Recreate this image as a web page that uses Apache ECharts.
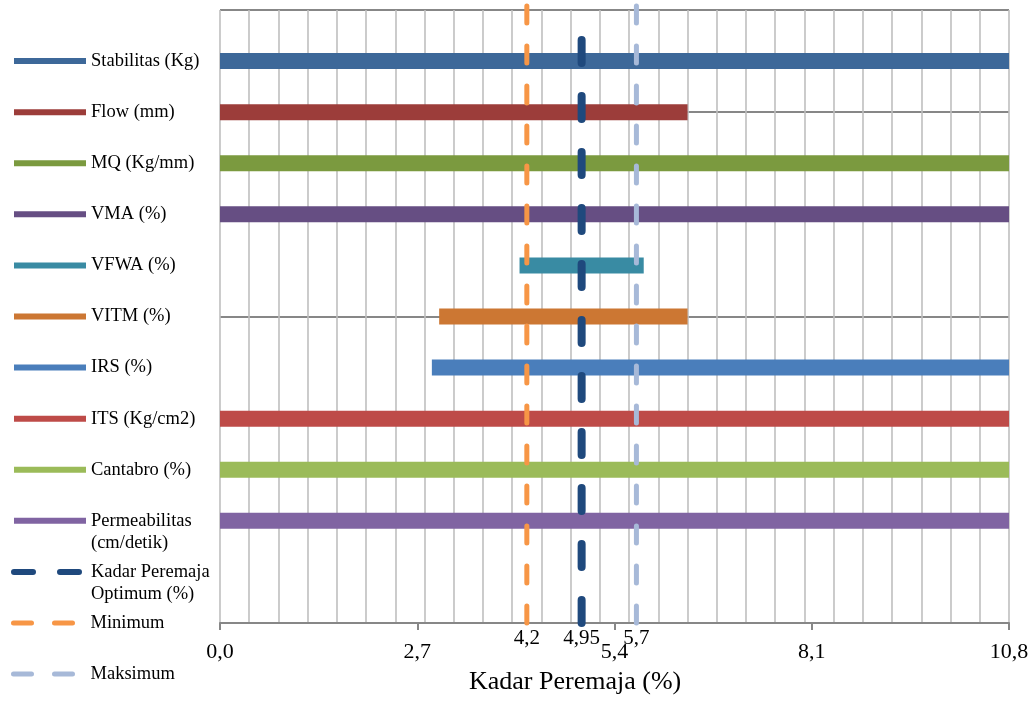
<!DOCTYPE html>
<html><head><meta charset="utf-8">
<script src="https://cdn.jsdelivr.net/npm/echarts@6/dist/echarts.min.js"></script>
<style>html,body{margin:0;padding:0;background:#fff}#c{width:1035px;height:702px}</style>
</head><body><div id="c"></div>
<script>
// ---- data ----
const categories = ['Stabilitas (Kg)','Flow (mm)','MQ (Kg/mm)','VMA (%)','VFWA (%)','VITM (%)','IRS (%)','ITS (Kg/cm2)','Cantabro (%)','Permeabilitas\n(cm/detik)'];
const rowLevels = [11,10,9,8,7,6,5,4,3,2];
const rangeStart = [0,0,0,0,4.1,3.0,2.9,0,0,0];
const rangeEnd = [10.8,6.4,10.8,10.8,5.8,6.4,10.8,10.8,10.8,10.8];
const refNames = ['Kadar Peremaja\nOptimum (%)','Minimum','Maksimum'];
const refValues = [4.95,4.2,5.7];
const refBottom = [0,0,0];
const refTop = [12,12.2,12.2];
const refLegendLevels = [1,0,-1];
const xTickValues = [0,2.7,5.4,8.1,10.8];
const xTickLabels = ['0,0','2,7','5,4','8,1','10,8'];
const refTickLabels = ['4,95','4,2','5,7'];
const xTitle = 'Kadar Peremaja (%)';

// ---- styles ----
const barColors = ['#3D6899','#9C3D3A','#7B9A3F','#664E83','#398BA3','#CC7733','#4A7EBB','#BE4B48','#9BBB59','#8064A2'];
const refColors = ['#1F497D','#F79646','#A7B9D8'];
const refWidths = [8,5,5];
const refDash = [[23,33],[17,23],[17,23]];
const refLegendDash = [[19,27],[18,23],[18,23]];
const FONT = '"Times New Roman","Liberation Serif",serif';

const gridTop = 10, gridBottom = 79, gridLeft = 220, gridRight = 26;
const yMax = 12;
const rowPx = (702 - gridTop - gridBottom) / yMax;

const series = [];
categories.forEach((name, i) => {
  series.push({
    type: 'line', name, silent: true, symbol: 'none', animation: false,
    data: [[rangeStart[i], rowLevels[i]], [rangeEnd[i], rowLevels[i]]],
    lineStyle: { width: 16, color: barColors[i], cap: 'butt' },
    itemStyle: { color: barColors[i] }, z: 3
  });
});
refNames.forEach((name, i) => {
  series.push({
    type: 'line', name, silent: true, symbol: 'none', animation: false, clip: false,
    data: [[refValues[i], refBottom[i]], [refValues[i], refTop[i]]],
    lineStyle: { width: refWidths[i], color: refColors[i], type: refDash[i], cap: 'round' },
    itemStyle: { color: refColors[i] }, z: 4 + (i === 0 ? 1 : 0)
  });
});

function legendFor(name, level, lineStyle) {
  const twoLine = name.indexOf('\n') >= 0;
  return {
    data: [name], left: 11,
    top: gridTop + (yMax - level) * rowPx - (twoLine ? 33 : 11),
    orient: 'vertical', padding: 0, itemWidth: 72, itemHeight: 20, selectedMode: false,
    // two-line entries: a blank first line keeps the icon level with the first text line
    formatter: (n) => (twoLine ? '\n' + n : n),
    textStyle: { fontFamily: FONT, fontSize: 18.5, color: '#000', lineHeight: 22 },
    lineStyle, itemStyle: { opacity: 0 }
  };
}
const legends = [];
categories.forEach((name, i) => legends.push(legendFor(name, rowLevels[i], { width: 6, color: barColors[i], type: 'solid', cap: 'butt' })));
refNames.forEach((name, i) => legends.push(legendFor(name, refLegendLevels[i], { width: refWidths[i] === 8 ? 6 : 5, color: refColors[i], type: refLegendDash[i], cap: 'round' })));

const fmt = (labels, values) => (v) => {
  const k = values.findIndex(x => Math.abs(x - v) < 1e-9);
  return k >= 0 ? labels[k] : '';
};

const option = {
  backgroundColor: '#fff',
  animation: false,
  title: { text: xTitle, left: 469, top: 669, padding: 0, textStyle: { fontFamily: FONT, fontSize: 26, fontWeight: 'normal', color: '#000' } },
  legend: legends,
  grid: { left: gridLeft, right: gridRight, top: gridTop, bottom: gridBottom, containLabel: false, outerBoundsMode: 'none' },
  xAxis: [
    { type: 'value', min: 0, max: 10.8, interval: 0.4, position: 'bottom',
      axisLine: { show: true, onZero: false, lineStyle: { color: '#878787', width: 2 } },
      axisTick: { show: false }, axisLabel: { show: false },
      splitLine: { show: true, lineStyle: { color: '#BFBFBF', width: 1.6 } } },
    { type: 'value', min: 0, max: 10.8, position: 'bottom',
      axisLine: { show: false, onZero: false }, splitLine: { show: false },
      axisTick: { show: true, customValues: xTickValues, length: 7, lineStyle: { color: '#878787', width: 2 } },
      axisLabel: { customValues: xTickValues, formatter: fmt(xTickLabels, xTickValues), margin: 18, fontFamily: FONT, fontSize: 22, color: '#000' } },
    { type: 'value', min: 0, max: 10.8, position: 'bottom',
      axisLine: { show: false, onZero: false }, splitLine: { show: false }, axisTick: { show: false },
      axisLabel: { customValues: refValues, formatter: fmt(refTickLabels, refValues), margin: 5, fontFamily: FONT, fontSize: 21, color: '#000' } }
  ],
  yAxis: { type: 'value', min: 0, max: yMax, interval: 2,
    axisLine: { show: false }, axisTick: { show: false }, axisLabel: { show: false },
    splitLine: { show: true, lineStyle: { color: '#878787', width: 2 } } },
  series
};
const chart = echarts.init(document.getElementById('c'), null, { renderer: 'canvas' });
chart.setOption(option);
</script></body></html>
